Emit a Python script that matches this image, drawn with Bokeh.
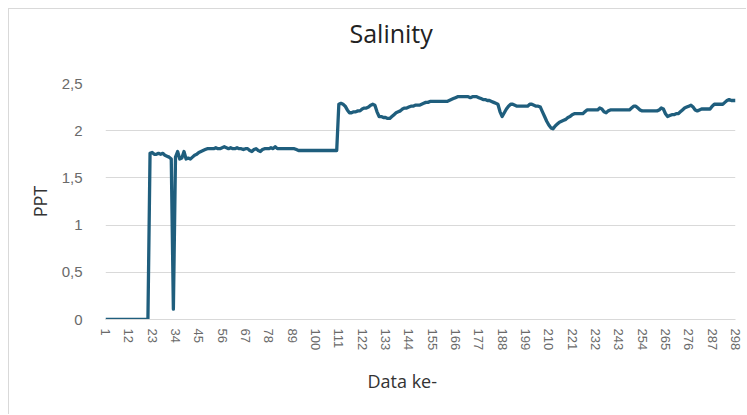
from bokeh.plotting import figure
from bokeh.models import Range1d, FixedTicker, ColumnDataSource, Title
from bokeh.embed import file_html
from bokeh.resources import INLINE

# ---- data ----
salinity = [
    0, 0, 0, 0, 0, 0, 0, 0, 0, 0, 0,                                   # 1-11
    0, 0, 0, 0, 0, 0, 0, 0, 0, 0, 1.76,                                # 12-22
    1.77, 1.75, 1.75, 1.76, 1.75, 1.76, 1.74, 1.73, 1.72, 1.70, 0.11,  # 23-33
    1.72, 1.78, 1.70, 1.71, 1.78, 1.70, 1.71, 1.70, 1.72, 1.74, 1.75,  # 34-44
    1.77, 1.78, 1.79, 1.80, 1.81, 1.81, 1.81, 1.81, 1.82, 1.81, 1.81,  # 45-55
    1.82, 1.83, 1.82, 1.81, 1.82, 1.81, 1.81, 1.82, 1.81, 1.81, 1.80,  # 56-66
    1.81, 1.81, 1.79, 1.78, 1.80, 1.81, 1.79, 1.78, 1.80, 1.81, 1.81,  # 67-77
    1.81, 1.82, 1.81, 1.83, 1.81, 1.81, 1.81, 1.81, 1.81, 1.81, 1.81,  # 78-88
    1.81, 1.81, 1.80, 1.79, 1.79, 1.79, 1.79, 1.79, 1.79, 1.79, 1.79,  # 89-99
    1.79, 1.79, 1.79, 1.79, 1.79, 1.79, 1.79, 1.79, 1.79, 1.79, 1.79,  # 100-110
    2.28, 2.29, 2.28, 2.26, 2.22, 2.19, 2.19, 2.20, 2.20, 2.21, 2.21,  # 111-121
    2.23, 2.24, 2.24, 2.25, 2.27, 2.28, 2.27, 2.20, 2.15, 2.15, 2.14,  # 122-132
    2.14, 2.13, 2.13, 2.15, 2.17, 2.19, 2.20, 2.21, 2.23, 2.24, 2.24,  # 133-143
    2.25, 2.26, 2.26, 2.27, 2.27, 2.27, 2.28, 2.29, 2.30, 2.30, 2.31,  # 144-154
    2.31, 2.31, 2.31, 2.31, 2.31, 2.31, 2.31, 2.31, 2.32, 2.33, 2.34,  # 155-165
    2.35, 2.36, 2.36, 2.36, 2.36, 2.36, 2.36, 2.35, 2.36, 2.36, 2.36,  # 166-176
    2.35, 2.34, 2.33, 2.33, 2.32, 2.32, 2.31, 2.30, 2.29, 2.28, 2.20,  # 177-187
    2.15, 2.19, 2.23, 2.26, 2.28, 2.28, 2.27, 2.26, 2.26, 2.26, 2.26,  # 188-198
    2.26, 2.26, 2.28, 2.28, 2.27, 2.26, 2.26, 2.25, 2.20, 2.15, 2.10,  # 199-209
    2.06, 2.03, 2.02, 2.05, 2.07, 2.09, 2.10, 2.11, 2.12, 2.14, 2.15,  # 210-220
    2.17, 2.18, 2.18, 2.18, 2.18, 2.18, 2.20, 2.22, 2.22, 2.22, 2.22,  # 221-231
    2.22, 2.22, 2.24, 2.23, 2.20, 2.19, 2.21, 2.22, 2.22, 2.22, 2.22,  # 232-242
    2.22, 2.22, 2.22, 2.22, 2.22, 2.22, 2.24, 2.26, 2.26, 2.24, 2.22,  # 243-253
    2.21, 2.21, 2.21, 2.21, 2.21, 2.21, 2.21, 2.21, 2.22, 2.24, 2.23,  # 254-264
    2.18, 2.15, 2.16, 2.17, 2.17, 2.18, 2.18, 2.20, 2.22, 2.24, 2.25,  # 265-275
    2.26, 2.27, 2.25, 2.22, 2.21, 2.22, 2.23, 2.23, 2.23, 2.23, 2.23,  # 276-286
    2.26, 2.28, 2.28, 2.28, 2.28, 2.28, 2.30, 2.32, 2.33, 2.32, 2.32,  # 287-297
    2.32,                                                              # 298
]
index = list(range(1, len(salinity) + 1))

x_ticks = list(range(1, 299, 11))
y_ticks = [0, 0.5, 1, 1.5, 2, 2.5]
y_tick_labels = ["0", "0,5", "1", "1,5", "2", "2,5"]

title_text = "Salinity"
x_label = "Data ke-"
y_label = "PPT"

source = ColumnDataSource(data=dict(x=index, y=salinity))

p = figure(
    width=738, height=406,
    output_backend="svg", toolbar_location=None,
    x_range=Range1d(1, 298), y_range=Range1d(0, 2.5),
    min_border_left=96, min_border_right=12,
    min_border_top=74, min_border_bottom=96,
    margin=(8, 0, 0, 8),
    styles={"border-top": "1px solid #d9d9d9", "border-left": "1px solid #d9d9d9"},
)

p.line("x", "y", source=source, line_width=3.3, line_color="#1f5e7d", line_join="round")

# title; the trailing empty line lifts the text away from the frame
p.add_layout(Title(
    text=title_text + "\n", align="left", offset=244, standoff=0,
    text_font="Open Sans", text_font_size="25px", text_font_style="normal",
    text_color="#222222",
), "above")

# axes
p.outline_line_color = None
p.background_fill_color = "white"
p.border_fill_color = "white"

xa = p.xaxis[0]
xa.ticker = FixedTicker(ticks=x_ticks)
xa.major_label_orientation = "vertical"
xa.axis_line_color = "#d9d9d9"
xa.major_tick_line_color = None
xa.minor_tick_line_color = None
xa.major_label_standoff = 3
xa.major_label_text_font = "Liberation Sans"
xa.major_label_text_font_size = "13px"
xa.major_label_text_color = "#6a6a6a"

p.add_layout(Title(
    text=x_label, align="left", offset=262, standoff=26,
    text_font="Open Sans", text_font_size="18px", text_font_style="normal",
    text_color="#333333",
), "below")

ya = p.yaxis[0]
ya.ticker = FixedTicker(ticks=y_ticks)
ya.major_label_overrides = {t: s for t, s in zip(y_ticks, y_tick_labels)}
ya.axis_line_color = None
ya.major_tick_line_color = None
ya.minor_tick_line_color = None
ya.major_label_standoff = 17
ya.major_label_text_font = "Liberation Sans"
ya.major_label_text_font_size = "15px"
ya.major_label_text_color = "#6a6a6a"
ya.axis_label = y_label
ya.axis_label_text_font = "Open Sans"
ya.axis_label_text_font_size = "18px"
ya.axis_label_text_font_style = "normal"
ya.axis_label_text_color = "#333333"
ya.axis_label_standoff = 7

p.xgrid.grid_line_color = None
p.ygrid.ticker = FixedTicker(ticks=y_ticks)
p.ygrid.grid_line_color = "#d9d9d9"
p.ygrid.grid_line_width = 1

open("out.html", "w").write(file_html(p, INLINE))
